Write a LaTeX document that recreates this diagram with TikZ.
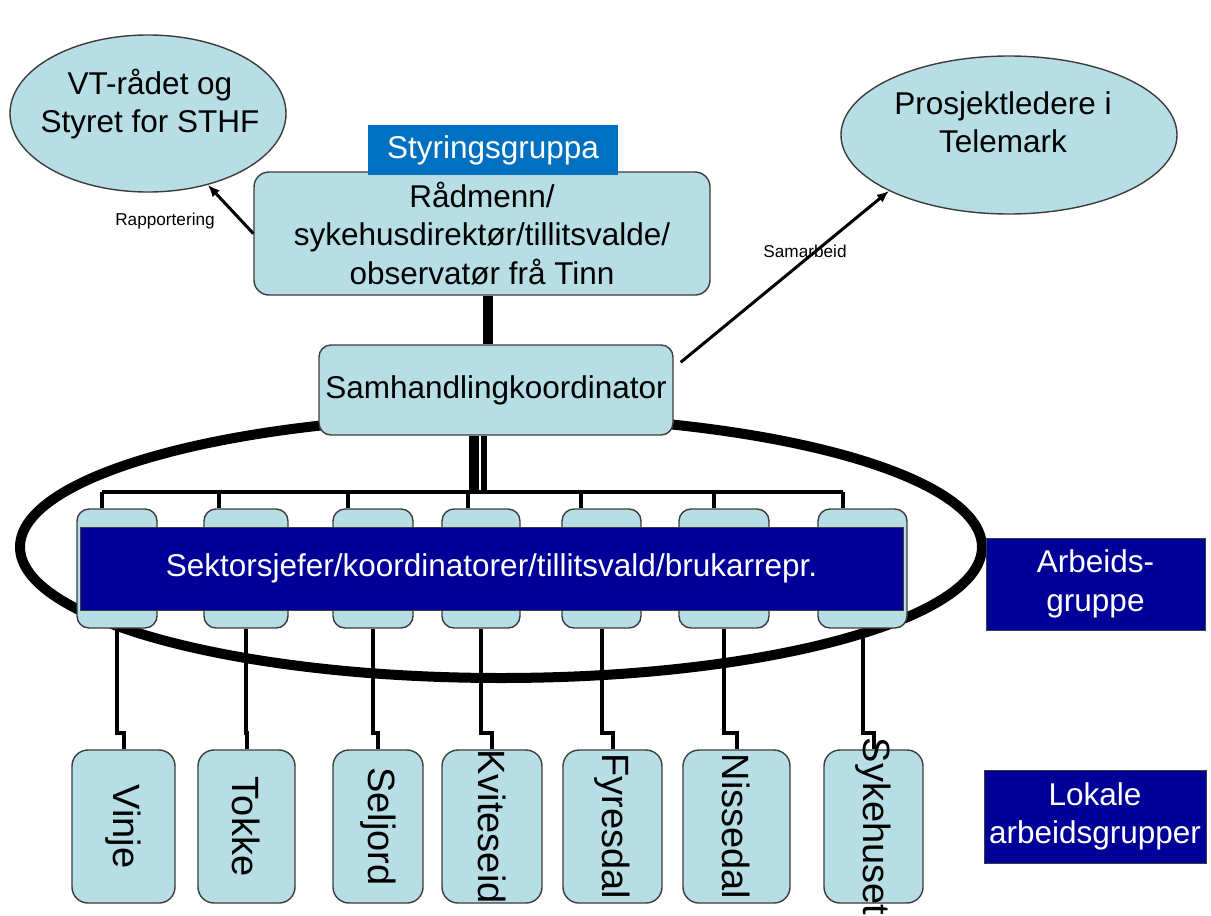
\documentclass[tikz,border=0pt]{standalone}
\usepackage{fontspec}
\setmainfont{Liberation Sans}
\usetikzlibrary{shapes.geometric,arrows.meta}
\definecolor{lb}{RGB}{183,222,229}
\definecolor{navy}{RGB}{0,0,153}
\definecolor{sgblue}{RGB}{0,112,192}
\definecolor{edgec}{RGB}{60,60,60}
\newcommand\mfont{\fontsize{15.75pt}{19.25pt}\selectfont}
\newcommand\lfont{\fontsize{19pt}{22pt}\selectfont}
\newcommand\sfont{\fontsize{8.6pt}{10pt}\selectfont}
\begin{document}
\begin{tikzpicture}[x=0.5pt,y=-0.5pt,
  lbox/.style={draw=edgec,line width=0.7pt,fill=lb,rounded corners=#1,inner sep=0pt},
  lbox/.default=7pt,
  oval/.style={draw=edgec,line width=0.7pt,fill=lb,ellipse,inner sep=0pt},
  navybox/.style={draw=edgec,line width=0.5pt,fill=navy,text=white,font=\mfont,inner sep=0pt,align=center},
  wire/.style={line width=2pt,black},
  arr/.style={line width=1.5pt,-{Latex[length=6pt,width=5pt]}},
  txt/.style={font=\mfont,align=center,inner sep=0pt},
  vtxt/.style={font=\lfont,rotate=-90,inner sep=0pt},
  small/.style={font=\sfont,inner sep=0pt}
]
\useasboundingbox (0,0) rectangle (1211,916);

% big oval around the working group
\node[draw=black,line width=5pt,ellipse,minimum width=481pt,minimum height=131pt,inner sep=0pt] (ring) at (501,547) {};

\coordinate (bus) at (0,492);
\coordinate (jog) at (0,733);

% top small boxes
\foreach \n/\cx/\w in {1/117/40,2/246/42,3/373/40,4/481/39,5/601.5/39.5,6/724/45,7/862.5/44.5}{
  \node[lbox=6pt,minimum width=\w pt,minimum height=59.5pt] (t\n) at (\cx,568.5) {};
}
% drops from bus
\foreach \n/\off in {1/-7.5,2/-13.5,3/-12.5,4/-6.5,5/-10.25,6/-5,7/-9.75}{
  \draw[wire] ([xshift=\off pt]t\n.north) -- ([xshift=\off pt]t\n.north |- bus);
}
\draw[wire,line width=2.2pt] ([xshift=-7.5pt]t1.north |- bus) -- ([xshift=-9.75pt]t7.north |- bus);

% band
\node[navybox,minimum width=411.5pt,minimum height=41.5pt] (band) at (491.5,568.5) {Sektorsjefer/koordinatorer/tillitsvald/brukarrepr.};

% Samhandling
\node[lbox=6pt,minimum width=177pt,minimum height=45pt,font=\mfont] (sam) at (496,390) {Samhandlingkoordinator};
\draw[line width=3pt] ([xshift=-6pt]sam.south) -- ([xshift=-6pt]sam.south |- bus);
\draw[line width=5pt] ([xshift=-11pt]sam.south) -- ([xshift=-11pt]sam.south |- bus);

% bottom boxes
\foreach \n/\cx/\w in {1/123.5/51.5,2/246.5/48.5,3/378/45,4/492/50,5/612.5/49.5,6/736.5/53.5,7/873.5/49.5}{
  \node[lbox=8pt,minimum width=\w pt,minimum height=76.5pt] (b\n) at (\cx,826.5) {};
  \draw[wire] (t\n.south) -- (t\n.south |- jog) -| (b\n.north);
}
\foreach \n/\name in {1/Vinje,2/Tokke,3/Seljord,4/Kviteseid,5/Fyresdal,6/Nissedal,7/Sykehuset}{
  \node[vtxt] (l\n) at (b\n.center) {\name};
}

% side labels
\node[navybox,minimum width=109.5pt,minimum height=46pt] (arb) at (1095.5,584) {Arbeids-\\gruppe};
\node[navybox,minimum width=111pt,minimum height=46.5pt] (lok) at (1095,816.5) {Lokale\\arbeidsgrupper};

% top level
\node[oval,minimum width=138pt,minimum height=78.5pt] (vt) at (148,113.5) {};
\node[txt] (vtt) at (150,104) {VT-rådet og\\Styret for STHF};
\node[oval,minimum width=168pt,minimum height=79pt] (pl) at (1009,135) {};
\node[txt] (plt) at (1003,122) {Prosjektledere i\\Telemark};

\node[lbox=7.5pt,minimum width=228pt,minimum height=61.5pt,font=\mfont,align=center] (rad) at (482,233.5) {Rådmenn/\\sykehusdirektør/tillitsvalde/\\observatør frå Tinn};
\node[fill=sgblue,text=white,font=\mfont,minimum width=125pt,minimum height=25pt,inner sep=0pt] (sty) at (493,150) {Styringsgruppa};

\draw[line width=5pt] ([xshift=3pt]rad.south) -- ([xshift=3pt]rad.south |- sam.north);

\draw[arr] (rad.west) -- (vt.310);
\node[small] (rap) at (165,221) {Rapportering};
\draw[arr] ([xshift=3.5pt,yshift=-9pt]sam.north east) -- (pl.205);
\node[small] (sama) at (805,251) {Samarbeid};
\end{tikzpicture}
\end{document}
